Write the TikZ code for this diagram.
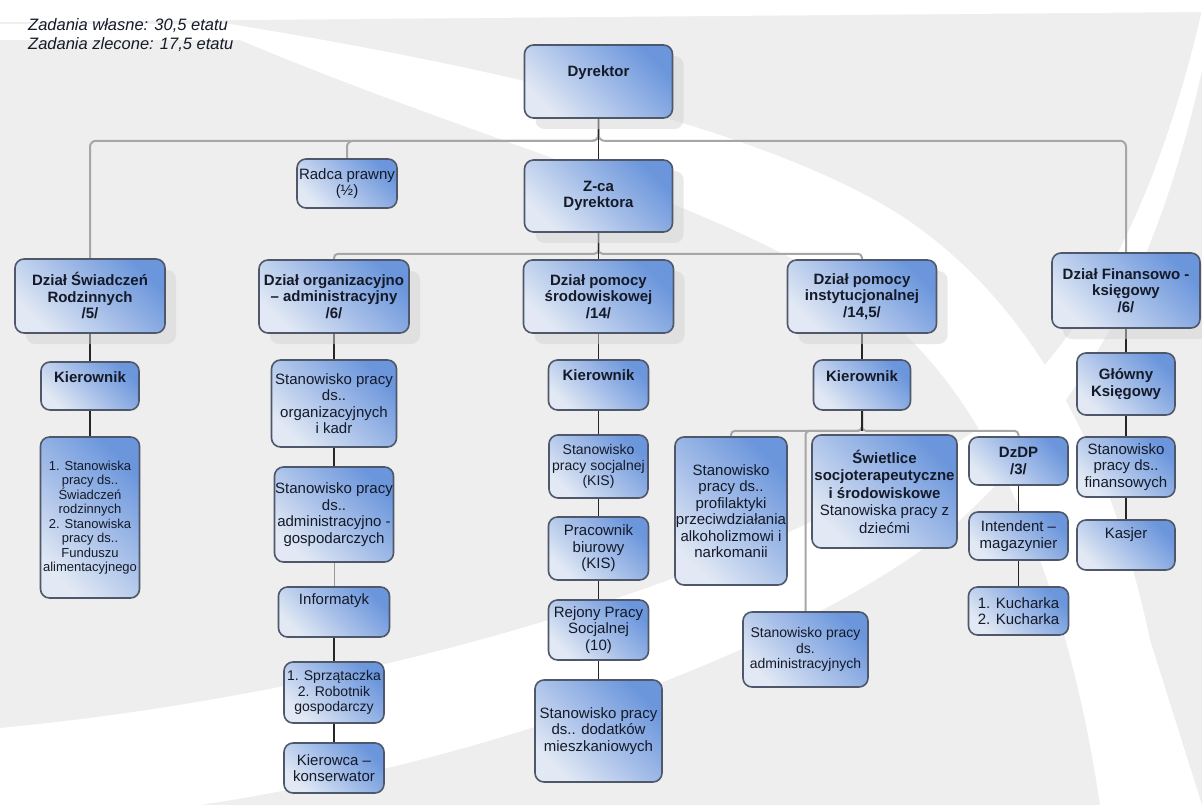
\documentclass[tikz,border=0pt]{standalone}
\usepackage{fontspec}
\setmainfont{Liberation Sans}
\usetikzlibrary{shadows,calc}
\pgfdeclarelayer{bg}
\pgfsetlayers{bg,main}
\definecolor{bggrey}{HTML}{EEEEEE}
\definecolor{boxblue}{HTML}{6B96DC}
\definecolor{boxlight}{HTML}{E2E9F4}
\definecolor{boxmid}{HTML}{A5BEE8}
\definecolor{boxedge}{HTML}{4F586A}
\definecolor{txt}{HTML}{141A28}
\definecolor{conngrey}{HTML}{A6A6A6}
\tikzset{
  box/.style={draw=boxedge, line width=1.6pt, rounded corners=9pt,
    top color=boxblue, bottom color=boxlight, middle color=boxmid, shading angle=-45,
    align=center, inner sep=0pt, text=txt, font=\fontsize{15}{16.5}\selectfont},
  bf/.style={font=\fontsize{15}{16.5}\selectfont\bfseries},
  hdr/.style={box, bf, drop shadow={shadow xshift=11pt, shadow yshift=-11pt, fill=black!17}},
  sz/.style 2 args={minimum width=#1pt, minimum height=#2pt},
  small/.style={font=\fontsize{13}{14.5}\selectfont},
  mid/.style={font=\fontsize{14}{15.5}\selectfont},
  gline/.style={draw=conngrey, line width=2pt, rounded corners=6pt},
  bline/.style={draw=black!85, line width=1.6pt},
  tline/.style={draw=black!40, line width=1pt},
  note/.style={align=left, inner sep=0pt, text=txt, font=\fontsize{16.5}{19.5}\selectfont\itshape}
}
\begin{document}
\begin{tikzpicture}[x=1pt,y=-1pt]
\useasboundingbox (0,0) rectangle (1202,805);

% ---- nodes ----
\node[note, anchor=north west] (tasks) at (28,18) {Zadania własne: 30,5 etatu\\Zadania zlecone: 17,5 etatu};

\node[hdr, sz={148}{73}, text height=32pt, text depth=41pt] (dyr) at (598.5,81.5) {Dyrektor};
\node[hdr, sz={148}{72}] (zca) at (598.5,196) {Z-ca\\Dyrektora};
\node[box, sz={100}{49}] (radca) at (347,183.5) {Radca prawny\\(½)};

% column 1
\node[hdr, sz={150}{74}] (dsr) at (90,296) {Dział Świadczeń\\Rodzinnych\\/5/};
\node[box, bf, sz={98}{48}, text height=20pt, text depth=28pt] (kl1) at (90,386) {Kierownik};
\node[box, small, sz={99}{161}] (lst1) at (90,517.5) {1. Stanowiska\\pracy ds..\\Świadczeń\\rodzinnych\\2. Stanowiska\\pracy ds..\\Funduszu\\alimentacyjnego};

% column 2
\node[hdr, sz={150}{73}] (dorg) at (334,296.5) {Dział organizacyjno\\– administracyjny\\/6/};
\node[box, sz={125}{87}] (org1) at (334,403.5) {Stanowisko pracy\\ds..\\organizacyjnych\\i kadr};
\node[box, sz={119}{95}] (org2) at (334,514.5) {Stanowisko pracy\\ds..\\administracyjno -\\gospodarczych};
\node[box, sz={111}{50}, text height=17pt, text depth=33pt] (inf) at (334,612) {Informatyk};
\node[box, mid, sz={100}{61}] (sprz) at (334,692.5) {1. Sprzątaczka\\2. Robotnik\\gospodarczy};
\node[box, sz={100}{50}] (kier) at (334,768) {Kierowca –\\konserwator};

% column 3
\node[hdr, sz={150}{73}] (dsrod) at (598.5,296.5) {Dział pomocy\\środowiskowej\\/14/};
\node[box, bf, sz={100}{50}, text height=20pt, text depth=30pt] (kl2) at (598.5,385) {Kierownik};
\node[box, mid, sz={99}{63}] (soc) at (598.5,466.5) {Stanowisko\\pracy socjalnej\\(KIS)};
\node[box, sz={100}{63}] (biur) at (598.5,548.5) {Pracownik\\biurowy\\(KIS)};
\node[box, sz={100}{60}] (rej) at (598.5,630) {Rejony Pracy\\Socjalnej\\(10)};
\node[box, sz={127}{102}] (dod) at (598.5,731) {Stanowisko pracy\\ds.. dodatków\\mieszkaniowych};

% column 4
\node[hdr, sz={149}{73}] (dinst) at (862,296.5) {Dział pomocy\\instytucjonalnej\\/14,5/};
\node[box, bf, sz={97}{50}, text height=21pt, text depth=29pt] (kl3) at (862,385) {Kierownik};
\node[box, sz={112}{148}] (prof) at (731,511) {Stanowisko\\pracy ds..\\profilaktyki\\przeciwdziałania\\alkoholizmowi i\\narkomanii};
\node[box, sz={145}{113}, font=\fontsize{15}{17.5}\selectfont] (swiet) at (884.5,491.5) {\textbf{Świetlice}\\\textbf{socjoterapeutyczne}\\\textbf{i środowiskowe}\\Stanowiska pracy z\\dziećmi};
\node[box, mid, sz={125}{75}] (adm) at (805.5,649.5) {Stanowisko pracy\\ds.\\administracyjnych};
\node[box, bf, sz={99}{48}] (dzdp) at (1018.5,461) {DzDP\\/3/};
\node[box, sz={99}{48}] (int) at (1018.5,536) {Intendent –\\magazynier};
\node[box, sz={100}{48}] (kuch) at (1018.5,611) {1. Kucharka\\2. Kucharka};

% column 5
\node[hdr, sz={148}{75}] (dfin) at (1126,290.5) {Dział Finansowo -\\księgowy\\/6/};
\node[box, bf, sz={98}{62}] (glk) at (1126,384) {Główny\\Księgowy};
\node[box, sz={98}{60}] (fin) at (1126,467) {Stanowisko\\pracy ds..\\finansowych};
\node[box, sz={98}{50}, text height=18pt, text depth=32pt] (kas) at (1126,545) {Kasjer};

% ---- background and connectors ----
\begin{pgfonlayer}{bg}
  \fill[bggrey] (0,0) rectangle (1202,805);
  \fill[white] (0,0) -- (1202,0) -- (1202,12) -- (0,22) -- cycle;
  \fill[white] (0,0) -- (0,24) -- (230,24)
     .. controls (450,60) and (750,120) .. (900,215)
     .. controls (1030,300) and (1110,450) .. (1150,640) -- (1202,805) -- (1100,805)
     .. controls (1070,600) and (1000,420) .. (900,330)
     .. controls (760,210) and (500,150) .. (240,40) -- (0,40) -- cycle;
  \fill[white] (0,728) .. controls (400,690) and (800,560) .. (990,420)
     .. controls (1110,320) and (1170,150) .. (1202,10) -- (1202,70)
     .. controls (1160,260) and (1090,400) .. (960,520)
     .. controls (820,640) and (500,760) .. (200,805) -- (0,805) -- cycle;

  \draw[gline] (dyr.south) -- ++(0,22) -| (dsr.north);
  \draw[gline] (dyr.south) -- ++(0,22) -| (radca.north);
  \draw[gline] (dyr.south) -- ++(0,22) -| (dfin.north);
  \draw[gline, rounded corners=4pt] (zca.south) -- ++(0,21) -| (dorg.north);
  \draw[gline, rounded corners=4pt] (zca.south) -- ++(0,21) -| (dinst.north);
  \draw[gline, rounded corners=4pt] (kl3.south) -- ++(0,20) -| (prof.north);
  \draw[gline, rounded corners=4pt] (kl3.south) -- ++(0,20) -| (adm.north);
  \draw[gline, rounded corners=4pt] (kl3.south) -- ++(0,20) -| (dzdp.north);

  \draw[bline] (dyr.south) -- (zca.north);
  \draw[bline] (zca.south) -- (dsrod.north);
  \draw[bline] (kl3.south) -- ++(0,20);

  \draw[bline] (dsr.south) -- (kl1.north);
  \draw[bline] (kl1.south) -- (lst1.north);

  \draw[bline] (dorg.south) -- (org1.north);
  \draw[bline] (org1.south) -- (org2.north);
  \draw[tline] (org2.south) -- (inf.north);
  \draw[bline] (inf.south) -- (sprz.north);
  \draw[bline] (sprz.south) -- (kier.north);

  \draw[bline] (dsrod.south) -- (kl2.north);
  \draw[bline] (kl2.south) -- (soc.north);
  \draw[bline] (soc.south) -- (biur.north);
  \draw[bline] (biur.south) -- (rej.north);
  \draw[bline] (rej.south) -- (dod.north);

  \draw[bline] (dinst.south) -- (kl3.north);

  \draw[bline] (dzdp.south) -- (int.north);
  \draw[bline] (int.south) -- (kuch.north);

  \draw[bline] (dfin.south) -- (glk.north);
  \draw[bline] (glk.south) -- (fin.north);
  \draw[bline] (fin.south) -- (kas.north);
\end{pgfonlayer}
\end{tikzpicture}
\end{document}
